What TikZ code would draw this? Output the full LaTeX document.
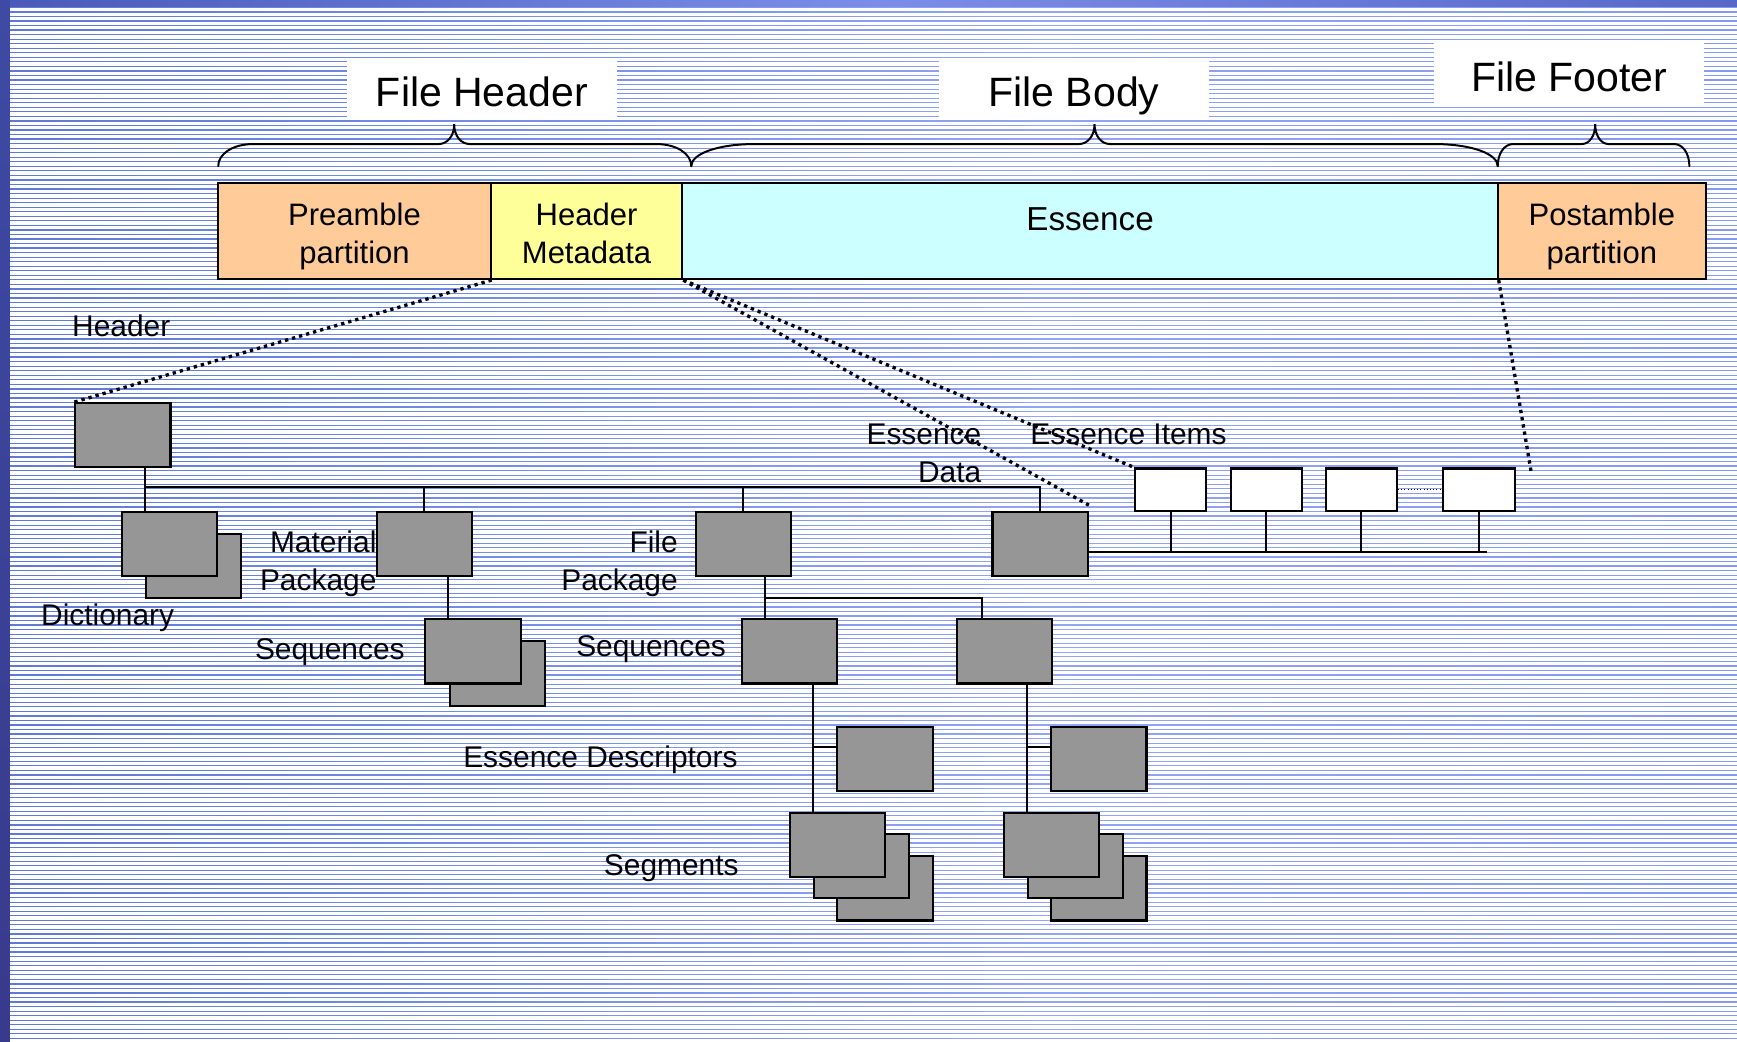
\documentclass[tikz,border=0pt]{standalone}
\usepackage{fontspec}
\setmainfont{Liberation Sans}
\definecolor{bgL}{RGB}{64,80,176}
\definecolor{bgM}{RGB}{108,136,228}
\definecolor{bgP}{RGB}{148,164,244}
\definecolor{bgR}{RGB}{112,140,238}
\definecolor{lsT}{RGB}{62,74,164}
\definecolor{lsB}{RGB}{56,58,140}
\definecolor{tbL}{RGB}{74,90,186}
\definecolor{tbM}{RGB}{122,142,232}
\definecolor{tbR}{RGB}{88,104,200}
\definecolor{preC}{RGB}{255,204,153}
\definecolor{hmC}{RGB}{255,255,153}
\definecolor{essC}{RGB}{204,255,255}
\definecolor{boxgray}{RGB}{150,150,150}
\pgfdeclarehorizontalshading{bgshade}{100bp}{color(0bp)=(bgL); color(35bp)=(bgM); color(55bp)=(bgP); color(100bp)=(bgR)}
\newcommand\mxfbrace[5]{%
 \draw[bracestyle] (#1,150) .. controls (#1,139) and ({#1+0.4*#4},130) .. ({#1+#4},130) -- ({#2-#5},130) .. controls ({#2-0.45*#5},130) and (#2,123) .. (#2,112) .. controls (#2,123) and ({#2+0.45*#5},130) .. ({#2+#5},130) -- ({#3-#4},130) .. controls ({#3-0.4*#4},130) and (#3,139) .. (#3,150);}
\begin{document}
\begin{tikzpicture}[x=1pt,y=-1pt,
  bracestyle/.style={line width=1.8pt, line cap=round},
  barbox/.style={draw, line width=1.7pt, minimum height=87pt, inner sep=0pt, align=center, font=\fontsize{28}{34}\selectfont},
  titlebox/.style={fill=white, minimum width=244pt, minimum height=56pt, inner sep=0pt, text depth=0pt, font=\fontsize{37}{44}\selectfont},
  gbox/.style={draw, line width=1.9pt, fill=boxgray, minimum width=86pt, minimum height=58pt, inner sep=0pt, anchor=north west},
  wbox/.style={draw, line width=1.9pt, fill=white, minimum width=64pt, minimum height=38pt, inner sep=0pt, anchor=north west},
  lbl/.style={inner sep=0pt, font=\fontsize{27}{34}\selectfont},
  conn/.style={line width=1.8pt},
  dotl/.style={line width=3pt, dash pattern=on 3pt off 3.6pt}
]
\useasboundingbox (0,0) rectangle (1568,940);
% background
\shade[shading=bgshade] (0,0) rectangle (1568,940);
\foreach \k in {0,...,227} {
  \fill[white] (9,{7.2+\k*4.1}) rectangle (1568,{7.2+\k*4.1+3.0});
}
\shade[top color=lsT, bottom color=lsB] (0,0) rectangle (9,940);
\shade[left color=tbL, right color=tbR, middle color=tbM] (9,0) rectangle (1568,6);

% titles
\node[titlebox, text height=33pt] (tfh) at (435,80) {File Header};
\node[titlebox, text height=33pt] (tfb) at (969.5,80) {File Body};
\node[titlebox, minimum height=57pt, text height=37pt] (tff) at (1416.5,64.5) {File Footer};

% braces
\mxfbrace{197}{410}{624}{32}{14}
\mxfbrace{624}{988}{1352}{58}{14}
\mxfbrace{1352}{1440}{1525}{14}{12}

% top bar
\node[barbox, fill=preC, minimum width=246pt, text height=59pt, text depth=0pt] (pre) at (320,208.5) {Preamble\\partition};
\node[barbox, fill=hmC, minimum width=173pt, text height=59pt, text depth=0pt] (hm) at (529.5,208.5) {Header\\Metadata};
\node[barbox, fill=essC, minimum width=736pt, text height=10pt, text depth=10pt, font=\fontsize{30}{36}\selectfont] (ess) at (984,208.5) {Essence};
\node[barbox, fill=preC, minimum width=188pt, text height=59pt, text depth=0pt] (post) at (1446,208.5) {Postamble\\partition};

% gray boxes
\node[gbox] (hdr) at (67,363) {};
\node[gbox] (dictB) at (131,481) {};
\node[gbox] (dict) at (109,461) {};
\node[gbox] (mp) at (339,461) {};
\node[gbox] (mpsB) at (405,578) {};
\node[gbox] (mps) at (383,558) {};
\node[gbox] (fp) at (627,461) {};
\node[gbox] (ed) at (895,461) {};
\node[gbox] (fps1) at (669,558) {};
\node[gbox] (fps2) at (863,558) {};
\node[gbox] (desc1) at (755,655) {};
\node[gbox] (desc2) at (948,655) {};
\node[gbox] (segA3) at (755,772) {};
\node[gbox] (segA2) at (734,752) {};
\node[gbox] (segA1) at (712,733) {};
\node[gbox] (segB3) at (948,772) {};
\node[gbox] (segB2) at (927,752) {};
\node[gbox] (segB1) at (905,733) {};

% essence items
\node[wbox] (ei1) at (1024,422) {};
\node[wbox] (ei2) at (1110,422) {};
\node[wbox] (ei3) at (1196,422) {};
\node[wbox, minimum width=65pt] (ei4) at (1302,422) {};

% tree connectors
\coordinate (b0) at (131,440);
\draw[conn] (hdr.south -| b0) -- (dict.north -| b0);
\draw[conn] (b0) -- (b0 -| ed.north) -- (ed.north);
\draw[conn] (b0 -| mp.north) -- (mp.north);
\draw[conn] (b0 -| fp.north) -- (fp.north);
\coordinate (m0) at (404,540);
\draw[conn] (mp.south -| m0) -- (mps.north -| m0);
\coordinate (f0) at (691,540);
\coordinate (f1) at (886,540);
\draw[conn] (fp.south -| f0) -- (fps1.north -| f0);
\draw[conn] (f0) -- (f1) -- (fps2.north -| f1);
\coordinate (s1) at (734,674);
\coordinate (s2) at (927,674);
\draw[conn] (fps1.south -| s1) -- (segA1.north -| s1);
\draw[conn] (s1) -- (desc1.west |- s1);
\draw[conn] (fps2.south -| s2) -- (segB1.north -| s2);
\draw[conn] (s2) -- (desc2.west |- s2);
\coordinate (e0) at (1342,498);
\draw[conn] (ed.east |- e0) -- (e0);
\draw[conn] (ei1.south) -- (ei1.south |- e0);
\draw[conn] (ei2.south) -- (ei2.south |- e0);
\draw[conn] (ei3.south) -- (ei3.south |- e0);
\draw[conn] (ei4.south) -- (ei4.south |- e0);
\draw[line width=0.9pt, dotted] (ei3.east) -- (ei4.west);

% dotted links
\draw[dotl] (pre.south east) -- (hdr.north west);
\draw[dotl] (hm.south east) -- ([yshift=5pt]ed.north east);
\draw[dotl] (hm.south east) -- (ei1.north west);
\coordinate (pend) at (1382,425);
\draw[dotl] (ess.south east) -- (pend);

% labels
\node[lbl, anchor=base west] (lhdr) at (65,304) {Header};
\node[lbl, anchor=base west] (ldict) at (37,565) {Dictionary};
\node[lbl, anchor=east, align=right] (lmp) at (340,509) {Material\\Package};
\node[lbl, anchor=base west] (lmps) at (230,595) {Sequences};
\node[lbl, anchor=east, align=right] (lfp) at (612,509) {File\\Package};
\node[lbl, anchor=base west] (lfps) at (520,593) {Sequences};
\node[lbl, anchor=base west] (ldesc) at (418,693) {Essence Descriptors};
\node[lbl, anchor=base west] (lseg) at (545,790) {Segments};
\node[lbl, anchor=east, align=right] (led) at (886,409) {Essence\\Data};
\node[lbl, anchor=base west] (lei) at (930,401) {Essence Items};
\end{tikzpicture}
\end{document}
